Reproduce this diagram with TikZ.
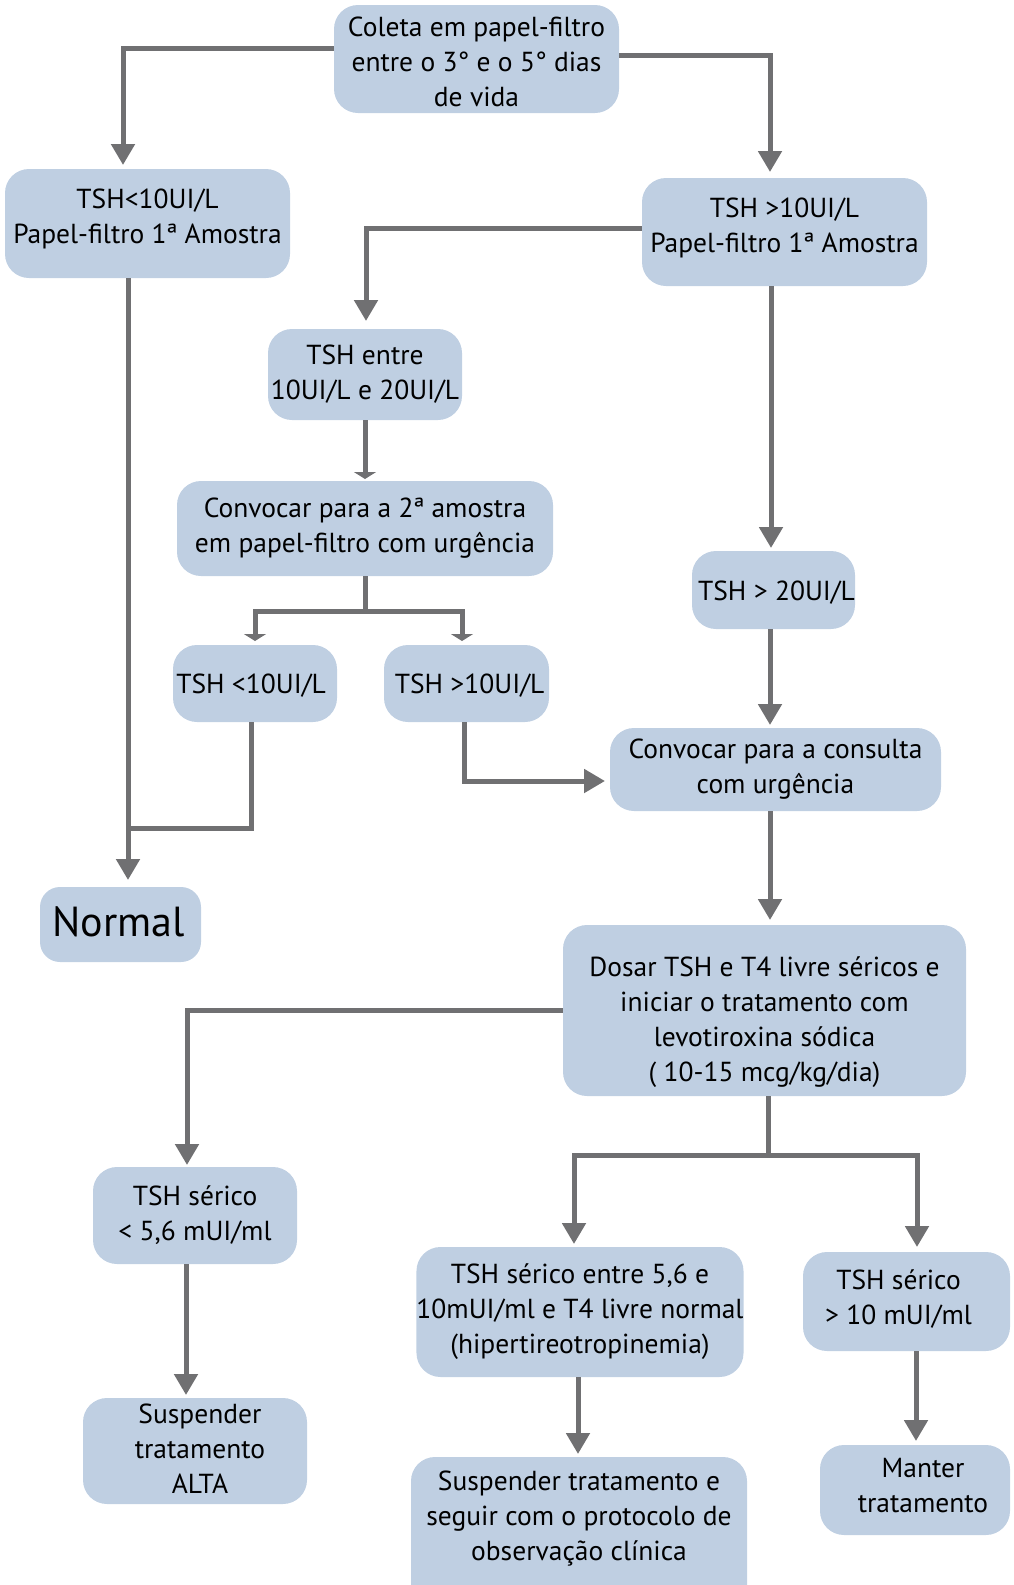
\documentclass[tikz,border=0pt]{standalone}
\usepackage{fontspec}
\setmainfont{PT Sans}
\usetikzlibrary{arrows.meta,calc}
\definecolor{boxblue}{HTML}{BFCFE2}
\definecolor{arrgray}{HTML}{707072}
\tikzset{
  box/.style={rectangle, rounded corners=24pt, fill=boxblue, draw=none, align=center,
    inner sep=0pt, font=\fontsize{27.5}{35}\selectfont},
  lab/.style={align=center, inner sep=0pt, font=\fontsize{27.5}{35}\selectfont},
  arr/.style={draw=arrgray, line width=5pt, -{Triangle[width=23pt,length=21pt]}},
  sarr/.style={draw=arrgray, line width=5pt, -{Triangle[width=22pt,length=7pt]}},
  lin/.style={draw=arrgray, line width=5pt},
}
\begin{document}
\begin{tikzpicture}[x=1pt,y=-1pt]
\useasboundingbox (0,0) rectangle (1014,1585);
\begin{scope}
\clip (0,0) rectangle (1014,1585);
\node[box, minimum width=285pt, minimum height=108pt, label={[lab, yshift=-3pt]center:{Coleta em papel-filtro\\entre o 3° e o 5° dias\\de vida}}] (coleta) at (476.5,59) {};
\node[box, minimum width=285pt, minimum height=109pt] (a1) at (147.5,223.5) {TSH<10UI/L\\Papel-filtro 1ª Amostra\\[-21pt]\mbox{}};
\node[box, minimum width=285pt, minimum height=108pt] (a2) at (784.5,232) {TSH >10UI/L\\Papel-filtro 1ª Amostra\\[-21pt]\mbox{}};
\node[box, minimum width=194pt, minimum height=91pt] (b1) at (365,374.5) {TSH entre\\10UI/L e 20UI/L};
\node[box, minimum width=376pt, minimum height=95pt] (b2) at (365,528.5) {Convocar para a 2ª amostra\\em papel-filtro com urgência};
\node[box, minimum width=164pt, minimum height=77pt, label={[lab, xshift=-4pt, yshift=-2pt]center:{TSH <10UI/L}}] (c1) at (255,683.5) {};
\node[box, minimum width=165pt, minimum height=77pt, label={[lab, xshift=3pt, yshift=-2pt]center:{TSH >10UI/L}}] (c2) at (466.5,683.5) {};
\node[box, minimum width=163pt, minimum height=78pt, label={[lab, xshift=3pt, yshift=-3pt]center:{TSH > 20UI/L}}] (d1) at (773.5,590) {};
\node[box, minimum width=331pt, minimum height=83pt] (d2) at (775.5,769.5) {Convocar para a consulta\\com urgência};
\node[box, minimum width=161pt, minimum height=75pt, rounded corners=20pt, label={[lab, font=\fontsize{42}{48}\selectfont, xshift=-2pt, yshift=3pt]center:{Normal}}] (normal) at (120.5,924.5) {};
\node[box, minimum width=403pt, minimum height=171pt, label={[lab, yshift=-12pt]center:{Dosar TSH e T4 livre séricos e\\iniciar o tratamento com\\levotiroxina sódica\\( 10-15 mcg/kg/dia)}}] (dosar) at (764.5,1010.5) {};
\node[box, minimum width=204pt, minimum height=97pt] (e1) at (195,1215.5) {TSH sérico\\< 5,6 mUI/ml};
\node[box, minimum width=326pt, minimum height=130pt] (e2) at (580,1312) {TSH sérico entre 5,6 e\\10mUI/ml e T4 livre normal\\(hipertireotropinemia)};
\node[box, minimum width=207pt, minimum height=99pt, label={[lab, xshift=-8pt, yshift=2pt]center:{TSH sérico\\> 10 mUI/ml}}] (e3) at (906.5,1301.5) {};
\node[box, minimum width=224pt, minimum height=106pt, label={[lab, xshift=5pt, yshift=2pt]center:{Suspender\\tratamento\\ALTA}}] (f1) at (195,1451) {};
\node[box, minimum width=336pt, minimum height=153pt, label={[lab, yshift=15pt]center:{Suspender tratamento e\\seguir com o protocolo de\\observação clínica}}] (f2) at (579,1533.5) {};
\node[box, minimum width=190pt, minimum height=90pt, label={[lab, xshift=8pt, yshift=4pt]center:{Manter\\tratamento}}] (f3) at (915,1490) {};
\end{scope}

% connectors
\coordinate (t1) at (123,165);
\coordinate (t2) at (770,172);
\coordinate (t3) at (366,321);
\coordinate (t4) at (771,548);
\coordinate (t5) at (365,479);
\coordinate (s1) at (365,611);
\coordinate (t6) at (255,641);
\coordinate (t7) at (462,641);
\coordinate (m1) at (251,828);
\coordinate (m2) at (129,828);
\coordinate (t8) at (128,880);
\coordinate (m3) at (464,781);
\coordinate (t9) at (605,781);
\coordinate (t10) at (770,725);
\coordinate (t11) at (770,920);
\coordinate (t12) at (187,1165);
\coordinate (s2) at (768,1155);
\coordinate (t13) at (574,1244);
\coordinate (t14) at (917,1247);
\coordinate (t15) at (186,1395);
\coordinate (t16) at (578,1454);
\coordinate (t17) at (916,1441);

\draw[arr] ([yshift=10.5pt]coleta.west) -| (t1);
\draw[arr] ([yshift=4pt]coleta.east) -| (t2);
\draw[arr] ([yshift=4pt]a2.west) -| (t3);
\draw[arr] (a2.south -| t4) -- (t4);
\draw[sarr] (b1.south -| t5) -- (t5);
\draw[lin] (b2.south -| s1) -- (s1);
\draw[sarr] (s1) -| (t6);
\draw[sarr] (s1) -| (t7);
\draw[lin] (c1.south -| m1) -- (m1) -- (m2);
\draw[arr] (a1.south -| t8) -- (t8);
\draw[arr] (c2.south -| m3) -- (m3) -- (t9);
\draw[arr] (d1.south -| t10) -- (t10);
\draw[arr] (d2.south -| t11) -- (t11);
\draw[arr] (dosar.west) -| (t12);
\draw[lin] (dosar.south -| s2) -- (s2);
\draw[arr] (s2) -| (t13);
\draw[arr] (s2) -| (t14);
\draw[arr] (e1.south -| t15) -- (t15);
\draw[arr] (e2.south -| t16) -- (t16);
\draw[arr] (e3.south -| t17) -- (t17);
\end{tikzpicture}
\end{document}
